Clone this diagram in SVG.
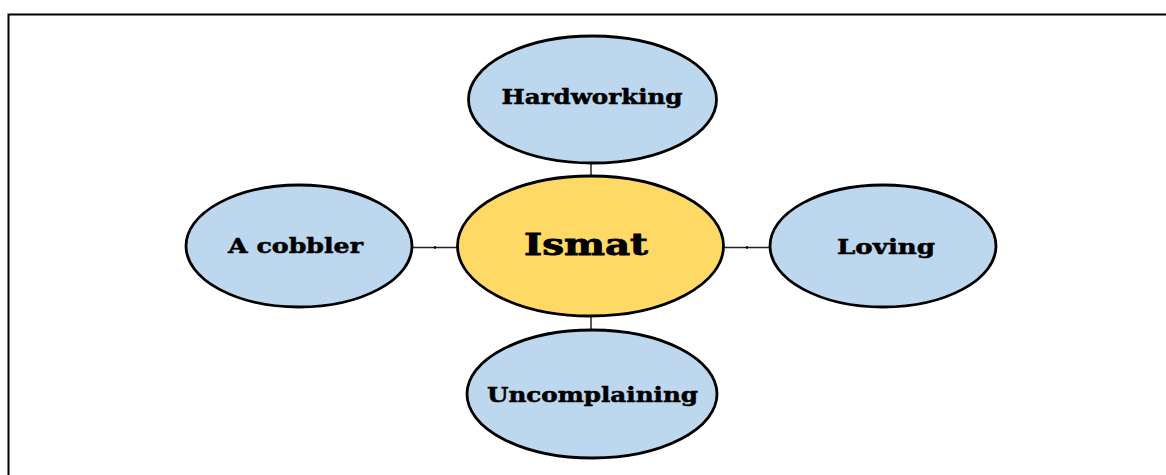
<svg xmlns="http://www.w3.org/2000/svg" width="1166" height="475" viewBox="0 0 1166 475">
<style>
.frame{stroke:#000;stroke-width:2;fill:none}
.leaf{fill:#BDD7EE;stroke:#000;stroke-width:2.8}
.hub{fill:#FFD966;stroke:#000;stroke-width:2.8}
.conn{stroke:#222;stroke-width:1.5;fill:none}
.dot{fill:#000}
.lbl{font-family:"DejaVu Serif","Liberation Serif",serif;font-weight:bold;font-size:20px;fill:#000;stroke:#000;stroke-width:0.5;text-anchor:middle}
.big{font-size:30px;stroke-width:0.8}
</style>
<rect width="1166" height="475" fill="#fff"/>
<path class="frame" d="M8.5,475 V14.5 H1166"/>
<g id="connectors">
<line class="conn" x1="591" y1="163" x2="591" y2="177"/>
<line class="conn" x1="591" y1="315" x2="591" y2="331"/>
<line class="conn" x1="412" y1="247.5" x2="458" y2="247.5"/>
<line class="conn" x1="723" y1="247.5" x2="770" y2="247.5"/>
<circle class="dot" cx="435" cy="247.5" r="1.3"/>
<circle class="dot" cx="747" cy="247.5" r="1.3"/>
</g>
<g id="node-hardworking">
<ellipse class="leaf" cx="592.5" cy="99.5" rx="124" ry="63.5"/>
<text class="lbl" x="592" y="103.5" textLength="181" lengthAdjust="spacingAndGlyphs">Hardworking</text>
</g>
<g id="node-ismat">
<ellipse class="hub" cx="590.5" cy="246" rx="133" ry="70"/>
<text class="lbl big" x="586" y="254.5" textLength="124" lengthAdjust="spacingAndGlyphs">Ismat</text>
</g>
<g id="node-cobbler">
<ellipse class="leaf" cx="299" cy="246" rx="113" ry="61"/>
<text class="lbl" x="295.5" y="253" textLength="135" lengthAdjust="spacingAndGlyphs">A cobbler</text>
</g>
<g id="node-loving">
<ellipse class="leaf" cx="883" cy="246" rx="113" ry="61"/>
<text class="lbl" x="886" y="254" textLength="98" lengthAdjust="spacingAndGlyphs">Loving</text>
</g>
<g id="node-uncomplaining">
<ellipse class="leaf" cx="592" cy="394" rx="125" ry="64"/>
<text class="lbl" x="592.5" y="402" textLength="211" lengthAdjust="spacingAndGlyphs">Uncomplaining</text>
</g>
</svg>
